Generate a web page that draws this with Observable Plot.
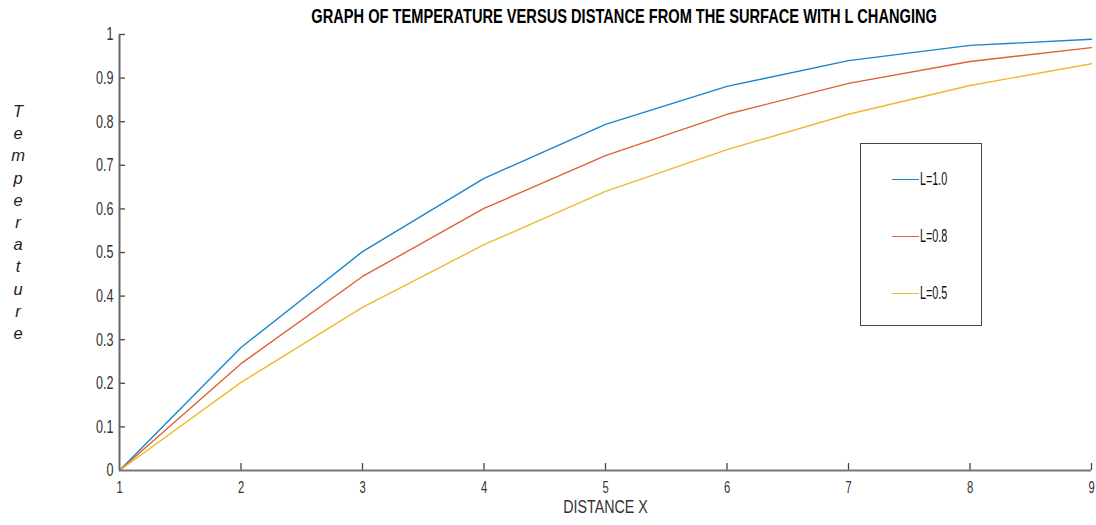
<!DOCTYPE html>
<html>
<head>
<meta charset="utf-8">
<script src="https://cdn.jsdelivr.net/npm/d3@7"></script>
<script src="https://cdn.jsdelivr.net/npm/@observablehq/plot@0.6"></script>
<style>
  html, body { margin: 0; padding: 0; background: #fff; }
  #wrap { position: relative; width: 1096px; height: 525px; }
  .narrow { font-family: "Liberation Sans", Arial, sans-serif; }
  #title { position: absolute; top: 5px; left: 0; width: 1248px; text-align: center; }
  #title span { display: inline-block; font-size: 19.5px; font-weight: bold; color: #000; transform: scaleX(0.75); transform-origin: center; white-space: nowrap; }
  #legend { position: absolute; left: 860px; top: 143px; width: 120px; height: 181px; border: 1.5px solid #444; background: #fff; }
  .lg { position: absolute; left: 31px; height: 18px; font-size: 18px; color: #111; display: flex; align-items: center; }
  .lg span.sw { display: inline-block; width: 27px; height: 0; border-top: 1.5px solid; margin-right: 1px; }
  .lg span.t { display: inline-block; transform: scaleX(0.6); transform-origin: left center; }
  #ylab { position: absolute; left: 10px; top: 100px; width: 16px; font-family: "Liberation Sans", Arial, sans-serif; font-style: italic; font-size: 16.5px; color: #222; text-align: center; line-height: 22.2px; }
</style>
</head>
<body>
<div id="wrap">
  <div id="chart"></div>
  <div id="title" class="narrow"><span></span></div>
  <div id="legend" class="narrow"></div>
  <div id="ylab"></div>
</div>
<script>
const titleText = "GRAPH OF TEMPERATURE VERSUS DISTANCE FROM THE SURFACE WITH L CHANGING";
const xLabel = "DISTANCE X";
const yLabel = "Temperature";
const distance = [1, 2, 3, 4, 5, 6, 7, 8, 9];
const seriesNames = ["L=1.0", "L=0.8", "L=0.5"];
const tempL10 = [0, 0.282, 0.502, 0.670, 0.794, 0.881, 0.940, 0.975, 0.989];
const tempL08 = [0, 0.245, 0.445, 0.601, 0.722, 0.817, 0.888, 0.938, 0.970];
const tempL05 = [0, 0.202, 0.374, 0.518, 0.640, 0.736, 0.817, 0.883, 0.933];
const colors = ["#1a85cc", "#dc6236", "#eeb92e"];
const xTicks = [1, 2, 3, 4, 5, 6, 7, 8, 9];
const yTicks = [0, 0.1, 0.2, 0.3, 0.4, 0.5, 0.6, 0.7, 0.8, 0.9, 1];

const allSeries = [tempL10, tempL08, tempL05];
const data = [];
allSeries.forEach((vals, i) => vals.forEach((v, j) => data.push({x: distance[j], y: v, s: seriesNames[i]})));

const font = '"Liberation Sans", Arial, sans-serif';
const W = 1096, H = 525, mL = 119, mR = 5, mT = 34, mB = 55;

const chart = Plot.plot({
  width: W, height: H,
  marginLeft: mL, marginRight: mR, marginTop: mT, marginBottom: mB,
  style: {fontFamily: font, fontSize: "16px", color: "#222", background: "#fff", overflow: "visible"},
  x: {domain: [1, 9]},
  y: {domain: [0, 1]},
  color: {domain: seriesNames, range: colors},
  marks: [
    Plot.axisX(xTicks, {tickSize: 0, tickPadding: 11, label: null, fontSize: 16.5, fill: "#333", tickFormat: d => String(d)}),
    Plot.axisY(yTicks, {tickSize: 0, tickPadding: 6, label: null, fontSize: 18.5, fill: "#333", tickFormat: d => String(d)}),
    Plot.tickX(xTicks.slice(1), {x: d => d, insetTop: H - mT - mB - 7, stroke: "#444", strokeWidth: 1.3}),
    Plot.tickY(yTicks.slice(1), {y: d => d, insetRight: W - mL - mR - 6, stroke: "#444", strokeWidth: 1.3}),
    Plot.lineY(data, {x: "x", y: "y", stroke: "s", strokeWidth: 1.4}),
    Plot.ruleX([1], {stroke: "#666", strokeWidth: 2}),
    Plot.ruleY([0], {stroke: "#777", strokeWidth: 2}),
    Plot.text([xLabel], {frameAnchor: "bottom", dy: 42, fontSize: 19, fill: "#333", text: d => d})
  ]
});
document.getElementById("chart").appendChild(chart);

// condense svg texts (narrow typeface look) via textLength
d3.select(chart).selectAll("text").each(function() {
  const len = this.getComputedTextLength();
  const isLabel = this.textContent === xLabel;
  if (len > 0) {
    this.setAttribute("textLength", (len * (isLabel ? 0.75 : 0.68)).toFixed(2));
    this.setAttribute("lengthAdjust", "spacingAndGlyphs");
  }
});

document.querySelector("#title span").textContent = titleText;
document.getElementById("ylab").innerHTML = yLabel.split("").map(c => `<div>${c}</div>`).join("");
const lg = document.getElementById("legend");
seriesNames.forEach((name, i) => {
  const row = document.createElement("div");
  row.className = "lg";
  row.style.top = (26 + i * 57) + "px";
  row.innerHTML = `<span class="sw" style="border-color:${colors[i]}"></span><span class="t">${name}</span>`;
  lg.appendChild(row);
});
</script>
</body>
</html>
